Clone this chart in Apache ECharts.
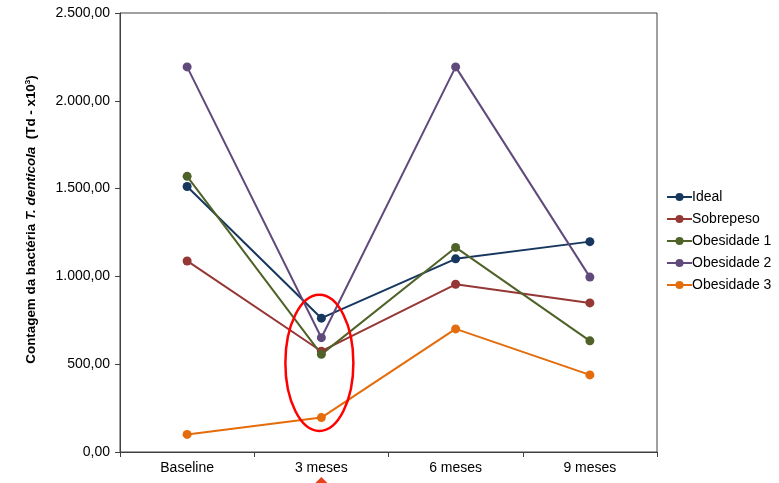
<!DOCTYPE html>
<html>
<head>
<meta charset="utf-8">
<script src="https://cdn.jsdelivr.net/npm/echarts@6/dist/echarts.min.js"></script>
<style>
  html, body { margin: 0; padding: 0; background: #fff; }
  #chart { width: 779px; height: 483px; }
</style>
</head>
<body>
<div id="chart"></div>
<script>
// Time points of the follow-up
const categories = ['Baseline', '3 meses', '6 meses', '9 meses'];

// T. denticola counts (x10^3) per BMI group
const ideal      = [1512,  762, 1100, 1198];
const sobrepeso  = [1088,  574,  955,  849];
const obesidade1 = [1570,  556, 1165,  633];
const obesidade2 = [2193,  651, 2193,  996];
const obesidade3 = [ 100,  196,  701,  439];

// Y axis range and step
const yMin = 0, yMax = 2500, yStep = 500;

// Region highlighted around the 3-month measurements (value range)
const highlightCategory = '3 meses';
const highlightLow = 120, highlightHigh = 895;

const groups = [
  { name: 'Ideal',       data: ideal,      color: '#17375E' },
  { name: 'Sobrepeso',   data: sobrepeso,  color: '#953735' },
  { name: 'Obesidade 1', data: obesidade1, color: '#4F6228' },
  { name: 'Obesidade 2', data: obesidade2, color: '#604A7B' },
  { name: 'Obesidade 3', data: obesidade3, color: '#E46C0A' }
];

const fontFamily = '"Liberation Sans", Arial, sans-serif';

function ptBR(v) {
  return v.toLocaleString('pt-BR', { minimumFractionDigits: 2, maximumFractionDigits: 2 });
}

const chart = echarts.init(document.getElementById('chart'), null, { renderer: 'canvas' });

chart.setOption({
  backgroundColor: '#fff',
  animation: false,
  textStyle: { fontFamily: fontFamily },
  grid: { left: 120, right: 122, top: 13, bottom: 31, show: true, borderColor: '#404040', borderWidth: 1 },
  legend: {
    orient: 'vertical',
    left: 661,
    top: 185,
    itemGap: 8,
    itemWidth: 25,
    itemHeight: 10,
    textStyle: { fontSize: 14, color: '#000', fontFamily: fontFamily, padding: [0, 0, 0, -5] },
    data: groups.map(g => g.name)
  },
  xAxis: {
    type: 'category',
    data: categories,
    boundaryGap: true,
    axisLine: { lineStyle: { color: '#404040', width: 1 } },
    axisTick: { show: true, length: 5, lineStyle: { color: '#404040' } },
    axisLabel: { color: '#000', fontSize: 14, margin: 9, fontFamily: fontFamily },
    splitLine: { show: false }
  },
  yAxis: {
    type: 'value',
    min: yMin,
    max: yMax,
    interval: yStep,
    axisLine: { show: true, lineStyle: { color: '#404040', width: 1 } },
    axisTick: { show: true, length: 5, lineStyle: { color: '#404040' } },
    axisLabel: { color: '#000', fontSize: 14, margin: 10, formatter: ptBR, fontFamily: fontFamily },
    splitLine: { show: false },
    name: '{b|Contagem da bactéria }{bi|T. denticola}{b|  (Td - x10}{sup|3}{b|)}',
    nameLocation: 'middle',
    nameGap: 82,
    nameRotate: 90,
    nameTextStyle: {
      padding: [0, 0, 0, 26],
      rich: {
        b:   { fontSize: 13.4, fontWeight: 'bold', color: '#000', fontFamily: fontFamily },
        bi:  { fontSize: 13.4, fontWeight: 'bold', fontStyle: 'italic', color: '#000', fontFamily: fontFamily },
        sup: { fontSize: 8, fontWeight: 'bold', color: '#000', fontFamily: fontFamily, verticalAlign: 'top', padding: [0, 0, 6, 0] }
      }
    }
  },
  series: groups.map(g => ({
    name: g.name,
    type: 'line',
    data: g.data,
    symbol: 'circle',
    symbolSize: 9,
    color: g.color,
    lineStyle: { color: g.color, width: 2 },
    itemStyle: { color: g.color },
    emphasis: { disabled: true }
  }))
});

// Hand-drawn style annotations: ellipse around the 3-month points and a pointer below the axis
function drawAnnotations() {
  const top = chart.convertToPixel({ gridIndex: 0 }, [highlightCategory, highlightHigh]);
  const bottom = chart.convertToPixel({ gridIndex: 0 }, [highlightCategory, highlightLow]);
  const cx = top[0] - 2;
  const cy = (top[1] + bottom[1]) / 2;
  const ry = (bottom[1] - top[1]) / 2;
  const h = chart.getHeight();
  chart.setOption({
    graphic: [
      {
        type: 'ellipse',
        shape: { cx: cx, cy: cy, rx: 34, ry: ry },
        style: { fill: null, stroke: '#FF0000', lineWidth: 2.5 },
        z: 100
      },
      {
        type: 'polygon',
        shape: { points: [[top[0], h - 6], [top[0] - 9, h + 3], [top[0] + 9, h + 3]] },
        style: { fill: '#E8401C' },
        z: 100
      }
    ]
  });
}
drawAnnotations();
</script>
</body>
</html>
